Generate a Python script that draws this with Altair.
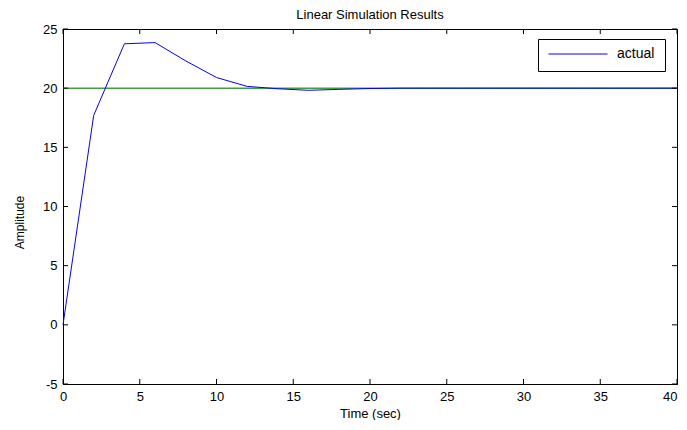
import altair as alt
import pandas as pd

# Data
time_s = [0, 2, 4, 6, 8, 10, 12, 14, 16, 18, 20, 22, 24, 26, 28, 30, 32, 34, 36, 38, 40]
actual = [0.0, 17.7, 23.75, 23.85, 22.3, 20.9, 20.15, 19.95, 19.82, 19.9, 19.97, 20.0, 20.0,
          20.0, 20.0, 20.0, 20.0, 20.0, 20.0, 20.0, 20.0]
ref_t = [0, 40]
ref_y = [20, 20]
x_ticks = [0, 5, 10, 15, 20, 25, 30, 35, 40]
y_ticks = [-5, 0, 5, 10, 15, 20, 25]

W, H = 614, 355
FONT = "Liberation Sans"

df = pd.DataFrame({"t": time_s, "y": actual, "series": ["actual"] * len(time_s)})
df_ref = pd.DataFrame({"t": ref_t, "y": ref_y})
df_xt = pd.DataFrame({"t": x_ticks})
df_yt = pd.DataFrame({"y": y_ticks})

xscale = alt.Scale(domain=[0, 40], nice=False, zero=False)
yscale = alt.Scale(domain=[-5, 25], nice=False, zero=False)

x_axis = alt.Axis(
    title="Time (sec)", values=x_ticks, ticks=False, grid=False,
    labelExpr="'' + datum.value",
    labelAlign=alt.expr("datum.value == 40 ? 'right' : 'center'"),
    labelFont=FONT, labelFontSize=13, labelColor="black", labelPadding=6,
    domainColor="black", titleFont=FONT, titleFontSize=13,
    titleFontWeight="normal", titleColor="black",
    titleY=33, titleBaseline="alphabetic")
y_axis = alt.Axis(
    title="Amplitude", values=y_ticks, ticks=False, grid=False,
    labelExpr="'' + datum.value",
    labelFont=FONT, labelFontSize=13, labelColor="black", labelPadding=6,
    domainColor="black", titleFont=FONT, titleFontSize=12,
    titleFontWeight="normal", titleColor="black",
    titleX=-44, titleY=193, titleBaseline="middle", titleAngle=-90)

X = alt.X("t:Q", scale=xscale, axis=x_axis, title="Time (sec)")
Y = alt.Y("y:Q", scale=yscale, axis=y_axis, title="Amplitude")

main = alt.Chart(df).mark_line(strokeWidth=1).encode(
    x=X, y=Y,
    color=alt.Color("series:N", scale=alt.Scale(domain=["actual"], range=["#0000ff"]),
                    legend=alt.Legend(title=None, orient="none", legendX=475, legendY=10,
                                      strokeColor="black", fillColor="white", padding=10,
                                      symbolType="stroke", symbolSize=3481,
                                      symbolStrokeWidth=1, clipHeight=10,
                                      labelFont=FONT, labelFontSize=14, labelColor="black",
                                      labelOffset=9, cornerRadius=0)),
)

ref = alt.Chart(df_ref).mark_line(strokeWidth=1.5, color="#449e44").encode(x=X, y=Y)

tick_bottom = alt.Chart(df_xt).mark_rule(color="black", strokeWidth=1).encode(
    x=X, y=alt.value(H), y2=alt.value(H - 5))
tick_top = alt.Chart(df_xt).mark_rule(color="black", strokeWidth=1).encode(
    x=X, y=alt.value(0), y2=alt.value(5))
tick_left = alt.Chart(df_yt).mark_rule(color="black", strokeWidth=1).encode(
    y=Y, x=alt.value(0), x2=alt.value(5))
tick_right = alt.Chart(df_yt).mark_rule(color="black", strokeWidth=1).encode(
    y=Y, x=alt.value(W), x2=alt.value(W - 5))

chart = alt.layer(ref, main, tick_bottom, tick_top, tick_left, tick_right).properties(
    width=W, height=H,
    title=alt.TitleParams("Linear Simulation Results", font=FONT, fontSize=13,
                          fontWeight="normal", color="black", offset=1),
    autosize=alt.AutoSizeParams(type="none"),
    padding={"left": 55, "top": 21, "right": 2, "bottom": 36},
).configure(background="white").configure_view(stroke="black", strokeWidth=1)

chart.save("out.html", embed_options={"renderer": "svg", "actions": False})
